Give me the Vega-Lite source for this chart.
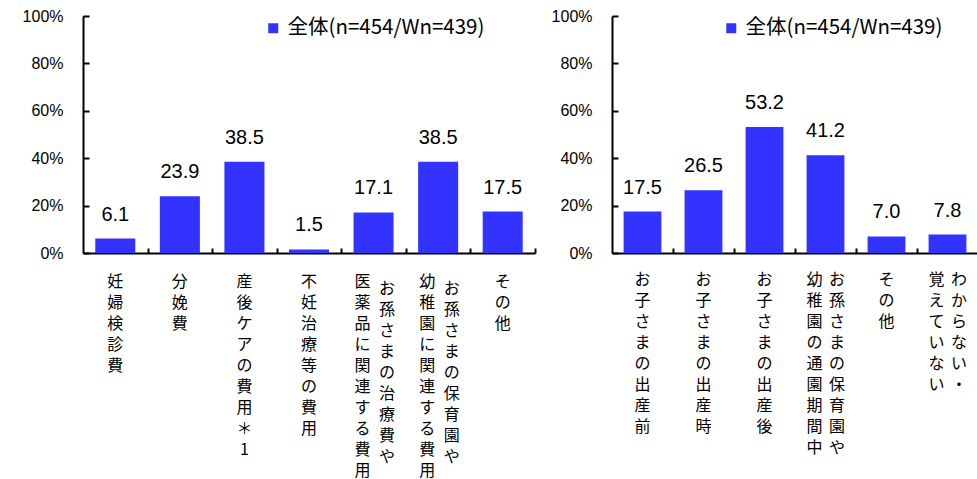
{
  "$schema": "https://vega.github.io/schema/vega-lite/v6.json",
  "padding": {"left": 22, "top": 8, "right": 0, "bottom": 0},
  "background": "white",
  "config": {
    "view": {"stroke": null},
    "axis": {"labelColor": "black", "domainColor": "black", "tickColor": "black", "grid": false, "title": null}
  },
  "datasets": {
    "left": [
      {"cat": "妊婦検診費", "value": 6.1, "series": "全体(n=454/Wn=439)"},
      {"cat": "分娩費", "value": 23.9, "series": "全体(n=454/Wn=439)"},
      {"cat": "産後ケアの費用＊1", "value": 38.5, "series": "全体(n=454/Wn=439)"},
      {"cat": "不妊治療等の費用", "value": 1.5, "series": "全体(n=454/Wn=439)"},
      {"cat": "お孫さまの治療費や|医薬品に関連する費用", "value": 17.1, "series": "全体(n=454/Wn=439)"},
      {"cat": "お孫さまの保育園や|幼稚園に関連する費用", "value": 38.5, "series": "全体(n=454/Wn=439)"},
      {"cat": "その他", "value": 17.5, "series": "全体(n=454/Wn=439)"}
    ],
    "right": [
      {"cat": "お子さまの出産前", "value": 17.5, "series": "全体(n=454/Wn=439)"},
      {"cat": "お子さまの出産時", "value": 26.5, "series": "全体(n=454/Wn=439)"},
      {"cat": "お子さまの出産後", "value": 53.2, "series": "全体(n=454/Wn=439)"},
      {"cat": "お孫さまの保育園や|幼稚園の通園期間中", "value": 41.2, "series": "全体(n=454/Wn=439)"},
      {"cat": "その他", "value": 7.0, "series": "全体(n=454/Wn=439)"},
      {"cat": "わからない・|覚えていない", "value": 7.8, "series": "全体(n=454/Wn=439)"}
    ]
  },
  "spacing": 15,
  "resolve": {"scale": {"color": "independent"}, "legend": {"color": "independent"}},
  "hconcat": [
    {
      "width": 452,
      "height": 237,
      "data": {"name": "left"},
      "resolve": {"scale": {"x": "independent"}, "axis": {"x": "independent"}},
      "layer": [
        {
          "mark": {"type": "bar", "color": "#3333ff"},
          "encoding": {
            "x": {
              "field": "cat", "type": "nominal", "sort": null,
              "scale": {"type": "band", "paddingInner": 0.38, "paddingOuter": 0.19},
              "axis": {
                "orient": "bottom", "title": null, "labelAngle": 0,
                "labelExpr": "split(indexof(datum.label,'|') > 0 ? split(datum.label,'|')[1] : datum.label, '')",
                "labelFont": "Noto Sans CJK JP", "labelFontSize": 16, "labelLineHeight": 21.1,
                "labelBaseline": "top", "labelAlign": "center", "labelPadding": 20,
                "labelOffset": {"condition": {"test": "indexof(datum.value,'|') > 0", "value": -11}, "value": 0},
                "labelLimit": 0, "labelOverlap": false,
                "ticks": false, "domainWidth": 2
              }
            },
            "y": {
              "field": "value", "type": "quantitative",
              "scale": {"domain": [0, 100]},
              "axis": {
                "title": null, "values": [0, 20, 40, 60, 80, 100],
                "labelExpr": "datum.value + '%'",
                "labelFont": "Liberation Sans", "labelFontSize": 16, "labelPadding": 26,
                "tickSize": -6, "tickWidth": 2, "domainWidth": 2
              }
            },
            "color": {
              "field": "series", "type": "nominal",
              "scale": {"range": ["#3333ff"]},
              "legend": {
                "orient": "none", "legendX": 180, "legendY": 2, "title": null,
                "symbolType": "square", "symbolSize": 100, "symbolStrokeWidth": 0,
                "labelFont": "Noto Sans CJK JP", "labelFontSize": 20.5, "labelOffset": 4, "labelLimit": 0
              }
            }
          }
        },
        {
          "mark": {"type": "text", "baseline": "alphabetic", "dy": -18, "font": "Liberation Sans", "fontSize": 20, "color": "black"},
          "encoding": {
            "x": {
              "field": "cat", "type": "nominal", "sort": null,
              "scale": {"type": "band", "paddingInner": 0.38, "paddingOuter": 0.19},
              "axis": {
                "orient": "bottom", "title": null, "labelAngle": 0,
                "labelExpr": "indexof(datum.label,'|') > 0 ? split(split(datum.label,'|')[0], '') : ''",
                "labelFont": "Noto Sans CJK JP", "labelFontSize": 16, "labelLineHeight": 21.1,
                "labelBaseline": "top", "labelAlign": "center", "labelPadding": 32,
                "tickOffset": 32.29, "labelOffset": -19.29, "tickSize": -5, "tickWidth": 2,
                "labelLimit": 0, "labelOverlap": false,
                "domain": false
              }
            },
            "y": {"field": "value", "type": "quantitative", "scale": {"domain": [0, 100]}},
            "text": {"field": "value", "type": "quantitative", "format": ".1f"}
          }
        }
      ]
    },
    {
      "width": 366,
      "height": 237,
      "data": {"name": "right"},
      "resolve": {"scale": {"x": "independent"}, "axis": {"x": "independent"}},
      "layer": [
        {
          "mark": {"type": "bar", "color": "#3333ff"},
          "encoding": {
            "x": {
              "field": "cat", "type": "nominal", "sort": null,
              "scale": {"type": "band", "paddingInner": 0.38, "paddingOuter": 0.19},
              "axis": {
                "orient": "bottom", "title": null, "labelAngle": 0,
                "labelExpr": "split(indexof(datum.label,'|') > 0 ? split(datum.label,'|')[1] : datum.label, '')",
                "labelFont": "Noto Sans CJK JP", "labelFontSize": 16, "labelLineHeight": 21,
                "labelBaseline": "top", "labelAlign": "center", "labelPadding": 18,
                "labelOffset": {"condition": {"test": "indexof(datum.value,'|') > 0", "value": -11}, "value": 0},
                "labelLimit": 0, "labelOverlap": false,
                "ticks": false, "domainWidth": 2
              }
            },
            "y": {
              "field": "value", "type": "quantitative",
              "scale": {"domain": [0, 100]},
              "axis": {
                "title": null, "values": [0, 20, 40, 60, 80, 100],
                "labelExpr": "datum.value + '%'",
                "labelFont": "Liberation Sans", "labelFontSize": 16, "labelPadding": 26,
                "tickSize": -6, "tickWidth": 2, "domainWidth": 2
              }
            },
            "color": {
              "field": "series", "type": "nominal",
              "scale": {"range": ["#3333ff"]},
              "legend": {
                "orient": "none", "legendX": 109, "legendY": 2, "title": null,
                "symbolType": "square", "symbolSize": 100, "symbolStrokeWidth": 0,
                "labelFont": "Noto Sans CJK JP", "labelFontSize": 20.5, "labelOffset": 4, "labelLimit": 0
              }
            }
          }
        },
        {
          "mark": {"type": "text", "baseline": "alphabetic", "dy": -18, "font": "Liberation Sans", "fontSize": 20, "color": "black"},
          "encoding": {
            "x": {
              "field": "cat", "type": "nominal", "sort": null,
              "scale": {"type": "band", "paddingInner": 0.38, "paddingOuter": 0.19},
              "axis": {
                "orient": "bottom", "title": null, "labelAngle": 0,
                "labelExpr": "indexof(datum.label,'|') > 0 ? split(split(datum.label,'|')[0], '') : ''",
                "labelFont": "Noto Sans CJK JP", "labelFontSize": 16, "labelLineHeight": 21,
                "labelBaseline": "top", "labelAlign": "center", "labelPadding": 23,
                "tickOffset": 30.5, "labelOffset": -19.5, "tickSize": -5, "tickWidth": 2,
                "labelLimit": 0, "labelOverlap": false,
                "domain": false
              }
            },
            "y": {"field": "value", "type": "quantitative", "scale": {"domain": [0, 100]}},
            "text": {"field": "value", "type": "quantitative", "format": ".1f"}
          }
        }
      ]
    }
  ]
}
